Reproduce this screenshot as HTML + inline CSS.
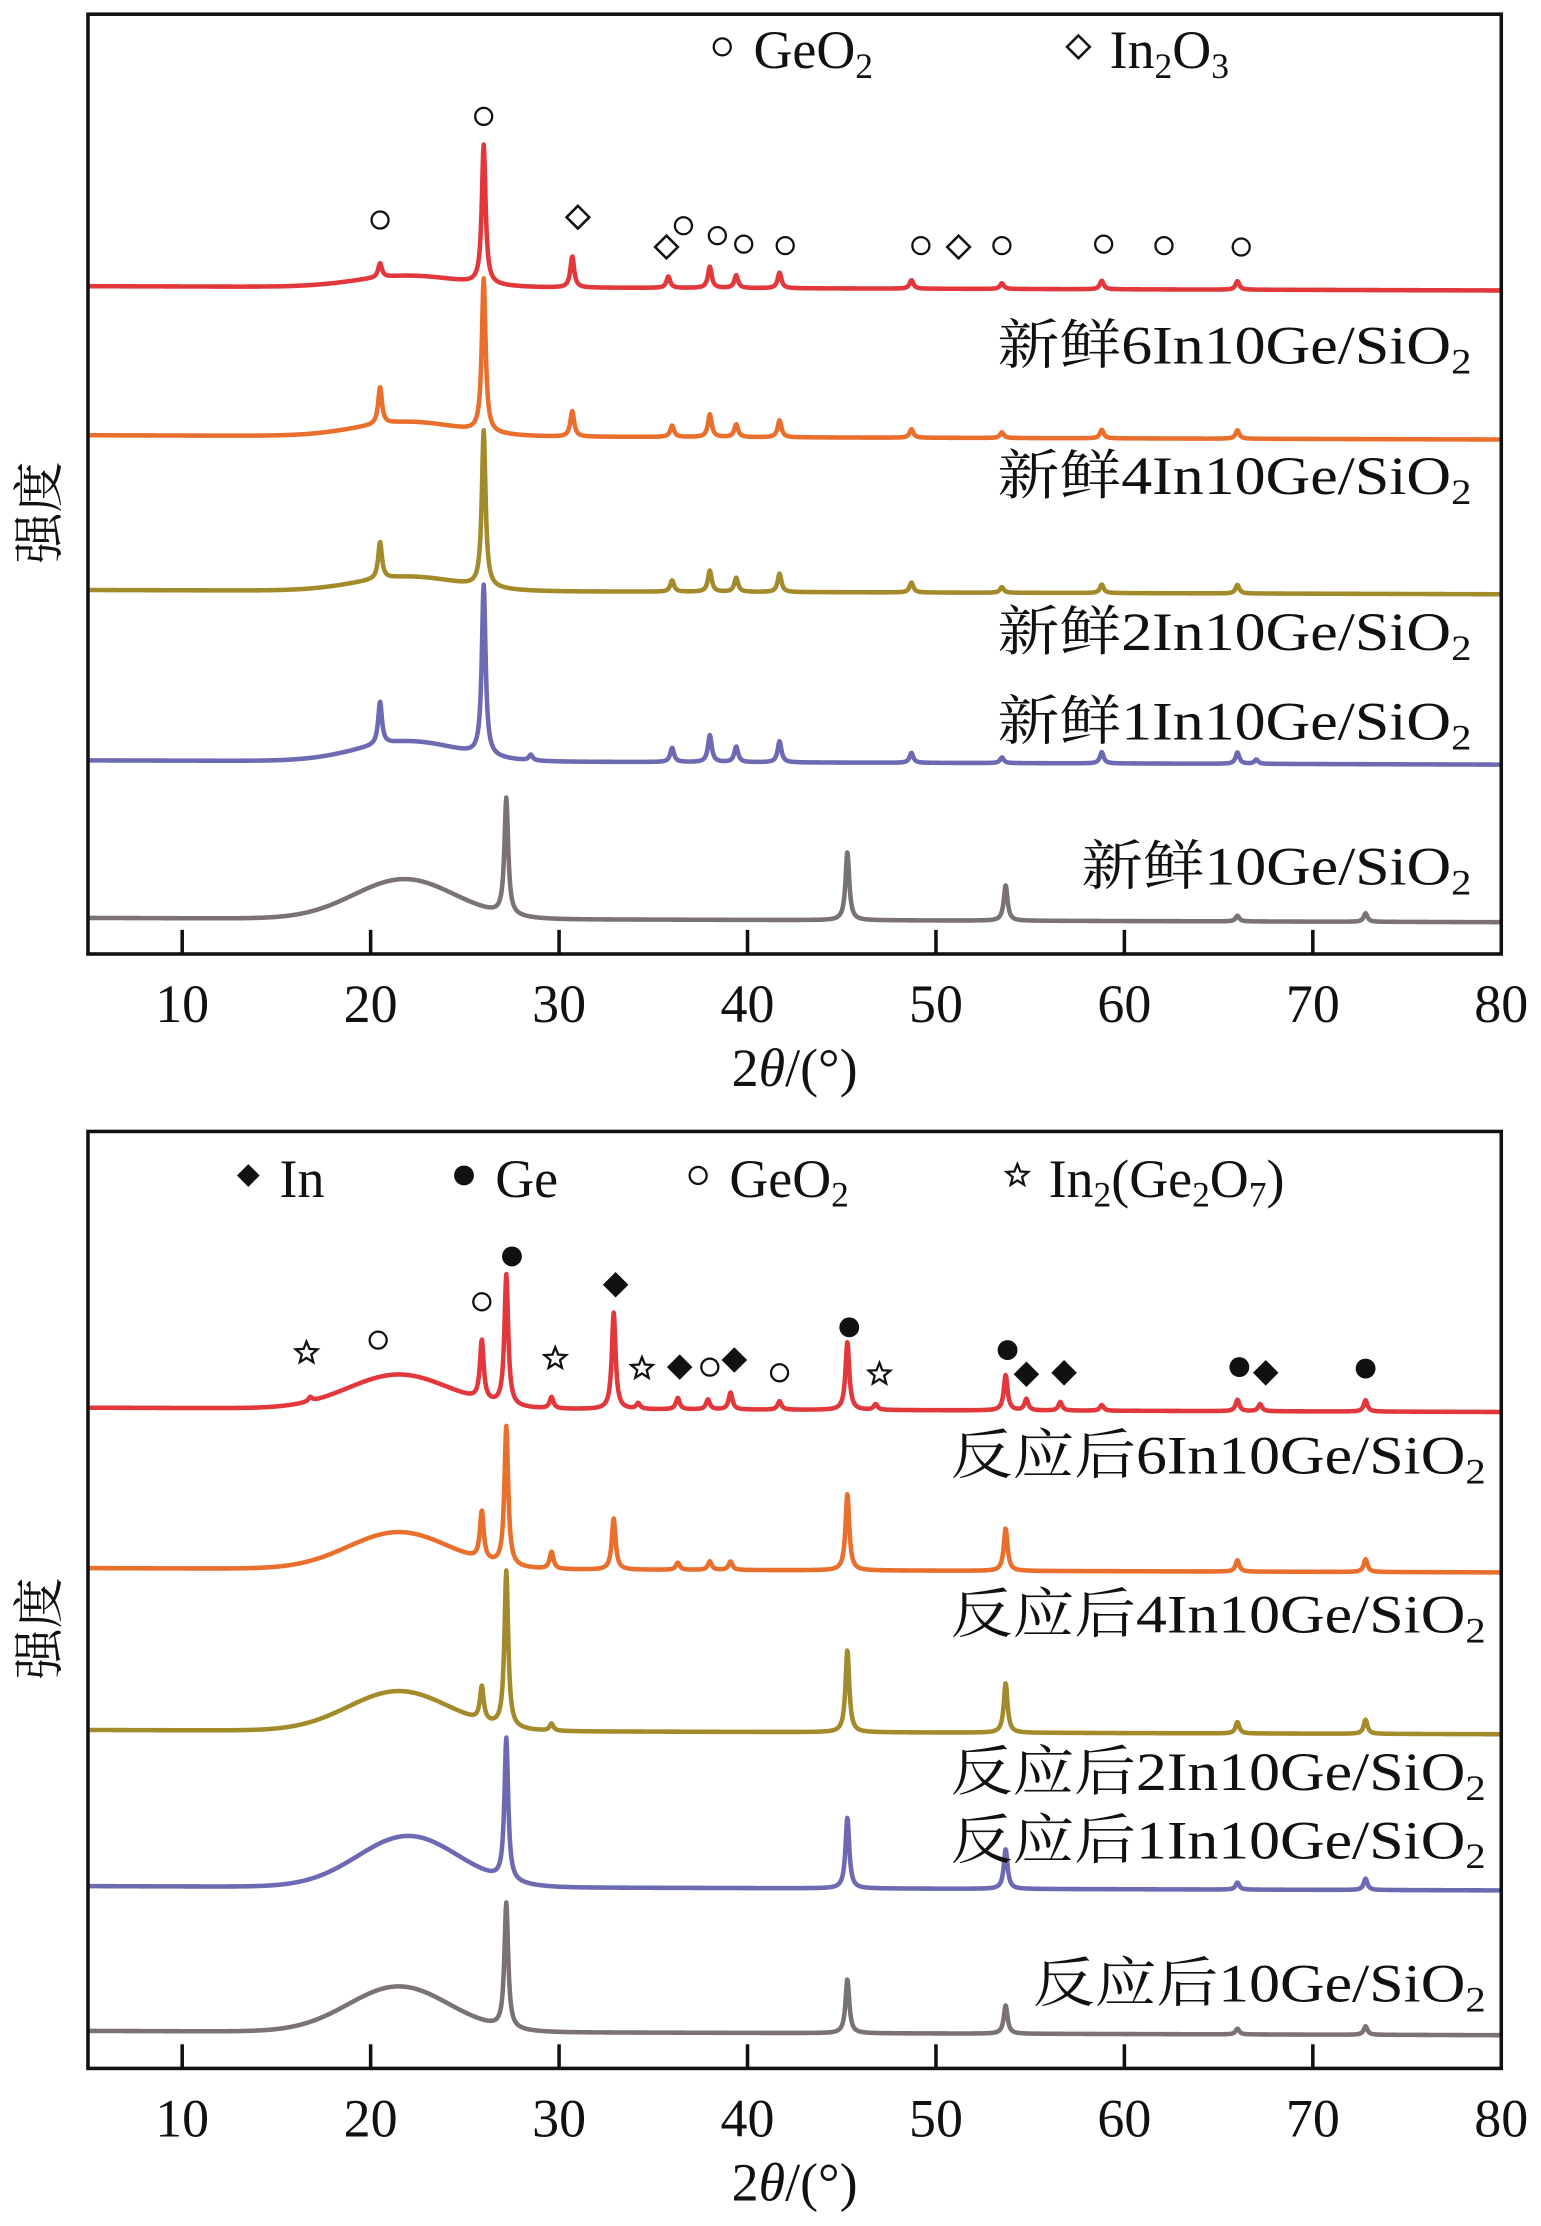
<!DOCTYPE html>
<html><head><meta charset="utf-8"><style>
html,body{margin:0;padding:0;background:#fff;}
svg{display:block;}
text{font-family:"Liberation Serif","Noto Serif CJK SC","Noto Sans CJK SC",serif;fill:#111;}
</style></head><body>
<svg id="fig" width="1541" height="2226" viewBox="0 0 1086 1568" preserveAspectRatio="none" xmlns="http://www.w3.org/2000/svg"></svg>
<script>
// ---- data (2θ in degrees; intensities in arbitrary units) ----
const xTicks = [10,20,30,40,50,60,70,80];
// top panel (fresh)
const topNames = ["新鲜6In10Ge/SiO","新鲜4In10Ge/SiO","新鲜2In10Ge/SiO","新鲜1In10Ge/SiO","新鲜10Ge/SiO"];
const topColors = ["#e2383c","#ea6e2c","#a38b2c","#6d69b3","#7b7373"];
const topOffsets = [203,308,417,537,648];
const topHump = [8,10,10,14,28];
const topHumpCenter = [22,22,22,22,21.8];
const topPeakPos = [[20.5,26,30.7,35.8,38,39.4,41.7,48.7,53.5,58.8,66],
                    [20.5,26,30.7,36,38,39.4,41.7,48.7,53.5,58.8,66],
                    [20.5,26,36,38,39.4,41.7,48.7,53.5,58.8,66],
                    [20.5,26,28.5,36,38,39.4,41.7,48.7,53.5,58.8,66,67],
                    [27.2,45.3,53.7,66,72.8]];
const topPeakH = [[10,98,22,8,15,9,11,6,4,6,6],
                  [26,108,18,8,16,9,12,6,4,6,6],
                  [26,110,8,15,10,13,7,4,6,6],
                  [30,120,4,10,19,11,15,7,4,8,8,3],
                  [82,48,25,4,6]];
const topLabelY = [256,348,458,521,623];
const topLabelW = [334,334,334,334,275];
// bottom panel (after reaction)
const botNames = ["反应后6In10Ge/SiO","反应后4In10Ge/SiO","反应后2In10Ge/SiO","反应后1In10Ge/SiO","反应后10Ge/SiO"];
const botOffsets = [993,1106,1220,1330,1432];
const botHump = [24,26,28,36,32];
const botHumpCenter = [21.5,21.5,21.5,22,21.5];
const botPeakPos = [[16.8,25.9,27.2,29.6,32.9,34.2,36.3,37.9,39.1,41.7,45.3,46.8,53.7,54.8,56.6,58.8,66,67.2,72.8],
                    [25.9,27.2,29.6,32.9,36.3,38,39.1,45.3,53.7,66,72.8],
                    [25.9,27.2,29.6,45.3,53.7,66,72.8],
                    [27.2,45.3,53.7,66,72.8],
                    [27.2,45.3,53.7,66,72.8]];
const botPeakH = [[3,42,92,8,68,4,8,7,12,6,48,4,25,8,6,4,8,5,8],
                  [34,98,12,36,5,6,6,54,30,8,9],
                  [24,110,5,58,35,8,10],
                  [100,50,28,5,8],
                  [88,38,20,4,6]];
const botLabelY = [1038,1150,1261,1309,1410];
const botLabelW = [377,377,377,377,319];
// phase markers
const topMarkType = ["c","c","d","d","c","c","c","c","c","d","c","c","c","c"];
const topMarkX = [20.5,26,31,35.7,36.6,38.4,39.8,42,49.2,51.2,53.5,58.9,62.1,66.2];
const topMarkY = [155,82,153,174,159,166,172,173,173,174,173,172,173,174];
const botMarkType = ["s","c","c","f","s","d","s","d","c","d","c","f","s","f","d","d","f","d","f"];
const botMarkX = [16.6,20.4,25.9,27.5,29.8,33,34.4,36.4,38,39.3,41.7,45.4,47,53.8,54.8,56.8,66.1,67.5,72.8];
const botMarkY = [953,944,917,885,957,905,964,963,963,958,967,935,968,951,968,967,963,967,964];

const NS="http://www.w3.org/2000/svg";
const svg=document.getElementById('fig');
function el(tag,attrs,parent){const e=document.createElementNS(NS,tag);for(const k in attrs)e.setAttribute(k,attrs[k]);(parent||svg).appendChild(e);return e;}
const X0=62,X1=1058;
function xs(v){return X0+(v-5)*(X1-X0)/75;}

function panel(top,bottom,names,colors,offs,hump,hc,pp,ph,labY,labW,labEnd,mt,mx,my,legend,pname){
  const g=el('g',{});
  
  
  for(let s=0;s<names.length;s++){
    let d='';
    for(let v=5;v<=80.001;v+=0.03){
      let y=offs[s];
      y-=hump[s]*Math.exp(-Math.pow((v-hc[s])/3.8,2));
      y+=(v-40)*0.04;
      for(let k=0;k<pp[s].length;k++){
        const w=0.12;const dx=(v-pp[s][k])/w;
        y-=ph[s][k]/(1+dx*dx);
      }
      d+=(d?'L':'M')+xs(v).toFixed(2)+','+y.toFixed(2);
    }
    const p=el('path',{d:d,fill:'none',stroke:colors[s],'stroke-width':3.2,'stroke-linejoin':'round'},g);
    
    
    const t=el('text',{x:labEnd-labW[s],y:labY[s],'font-size':38,textLength:labW[s],lengthAdjust:'spacingAndGlyphs'},g);
    
    
    t.textContent=names[s];
    const sub=el('tspan',{'font-size':25,dy:7},t);sub.textContent='2';
  }
  for(let i=0;i<mt.length;i++){
    const x=xs(mx[i]),y=my[i];let m;
    if(mt[i]==='c')m=el('circle',{cx:x,cy:y,r:6,fill:'#fff',stroke:'#111','stroke-width':1.6},g);
    else if(mt[i]==='f')m=el('circle',{cx:x,cy:y,r:7,fill:'#111'},g);
    else if(mt[i]==='d')m=el('path',{d:`M${x},${y-8}L${x+8},${y}L${x},${y+8}L${x-8},${y}Z`,fill:'#fff',stroke:'#111','stroke-width':1.8},g);
    else if(mt[i]==='D')m=el('path',{d:`M${x},${y-9}L${x+9},${y}L${x},${y+9}L${x-9},${y}Z`,fill:'#111'},g);
    else {let pts=[];for(let k=0;k<10;k++){const r=k%2?3.5:8;const a=-Math.PI/2+k*Math.PI/5;pts.push((x+r*Math.cos(a)).toFixed(1)+','+(y+r*Math.sin(a)).toFixed(1));}
      m=el('polygon',{points:pts.join(' '),fill:'#fff',stroke:'#111','stroke-width':1.6},g);}
    
    
  }
  const f=el('rect',{x:X0,y:top,width:X1-X0,height:bottom-top,fill:'none',stroke:'#111','stroke-width':2.5},g);
  
  
  for(const v of xTicks){
    const x=xs(v);
    if(v<80){const tk=el('line',{x1:x,x2:x,y1:bottom,y2:bottom-17,stroke:'#111','stroke-width':2.5},g);
      
      }
    const tl=el('text',{x:x,y:bottom+48,'font-size':38,'text-anchor':'middle'},g);
    
    
    tl.textContent=v;
  }
  const xt=el('text',{x:560,y:bottom+93,'font-size':38,'text-anchor':'middle'},g);
  
  
  xt.innerHTML='2<tspan font-style="italic">θ</tspan>/(°)';
  const yc=(top+bottom)/2+20;
  const yt=el('text',{x:0,y:0,'font-size':36,'text-anchor':'middle',transform:`translate(40,${yc}) rotate(-90)`},g);
  
  
  yt.textContent='强度';
  for(const L of legend){
    const lg=el('g',{},g);
    
    
    const x=L.x,y=L.y-10;
    if(L.t==='c')el('circle',{cx:x,cy:y,r:6,fill:'#fff',stroke:'#111','stroke-width':1.6},lg);
    else if(L.t==='f')el('circle',{cx:x,cy:y,r:7,fill:'#111'},lg);
    else if(L.t==='d')el('path',{d:`M${x},${y-8}L${x+8},${y}L${x},${y+8}L${x-8},${y}Z`,fill:'#fff',stroke:'#111','stroke-width':1.8},lg);
    else if(L.t==='D')el('path',{d:`M${x},${y-8}L${x+8},${y}L${x},${y+8}L${x-8},${y}Z`,fill:'#111'},lg);
    else {let pts=[];for(let k=0;k<10;k++){const r=k%2?3.5:8;const a=-Math.PI/2+k*Math.PI/5;pts.push((x+r*Math.cos(a)).toFixed(1)+','+(y+r*Math.sin(a)).toFixed(1));}
      el('polygon',{points:pts.join(' '),fill:'#fff',stroke:'#111','stroke-width':1.6},lg);}
    const tt=el('text',{x:x+22,y:L.y+5,'font-size':38},lg);
    tt.innerHTML=L.h;
  }
}
panel(10,672,topNames,topColors,topOffsets,topHump,topHumpCenter,topPeakPos,topPeakH,topLabelY,topLabelW,1037,topMarkType,topMarkX,topMarkY,
  [{x:509,y:43,t:'c',h:'GeO<tspan font-size="25" dy="7">2</tspan>'},{x:760,y:43,t:'d',h:'In<tspan font-size="25" dy="7">2</tspan><tspan dy="-7">O</tspan><tspan font-size="25" dy="7">3</tspan>'}],'top');
panel(797,1457,botNames,topColors,botOffsets,botHump,botHumpCenter,botPeakPos,botPeakH,botLabelY,botLabelW,1047,botMarkType.map(t=>t==='d'?'D':t),botMarkX,botMarkY,
  [{x:175,y:838,t:'D',h:'In'},{x:327,y:838,t:'f',h:'Ge'},{x:492,y:838,t:'c',h:'GeO<tspan font-size="25" dy="7">2</tspan>'},{x:717,y:838,t:'s',h:'In<tspan font-size="25" dy="7">2</tspan><tspan dy="-7">(Ge</tspan><tspan font-size="25" dy="7">2</tspan><tspan dy="-7">O</tspan><tspan font-size="25" dy="7">7</tspan><tspan dy="-7">)</tspan>'}],'bottom');
</script>
</body></html>
